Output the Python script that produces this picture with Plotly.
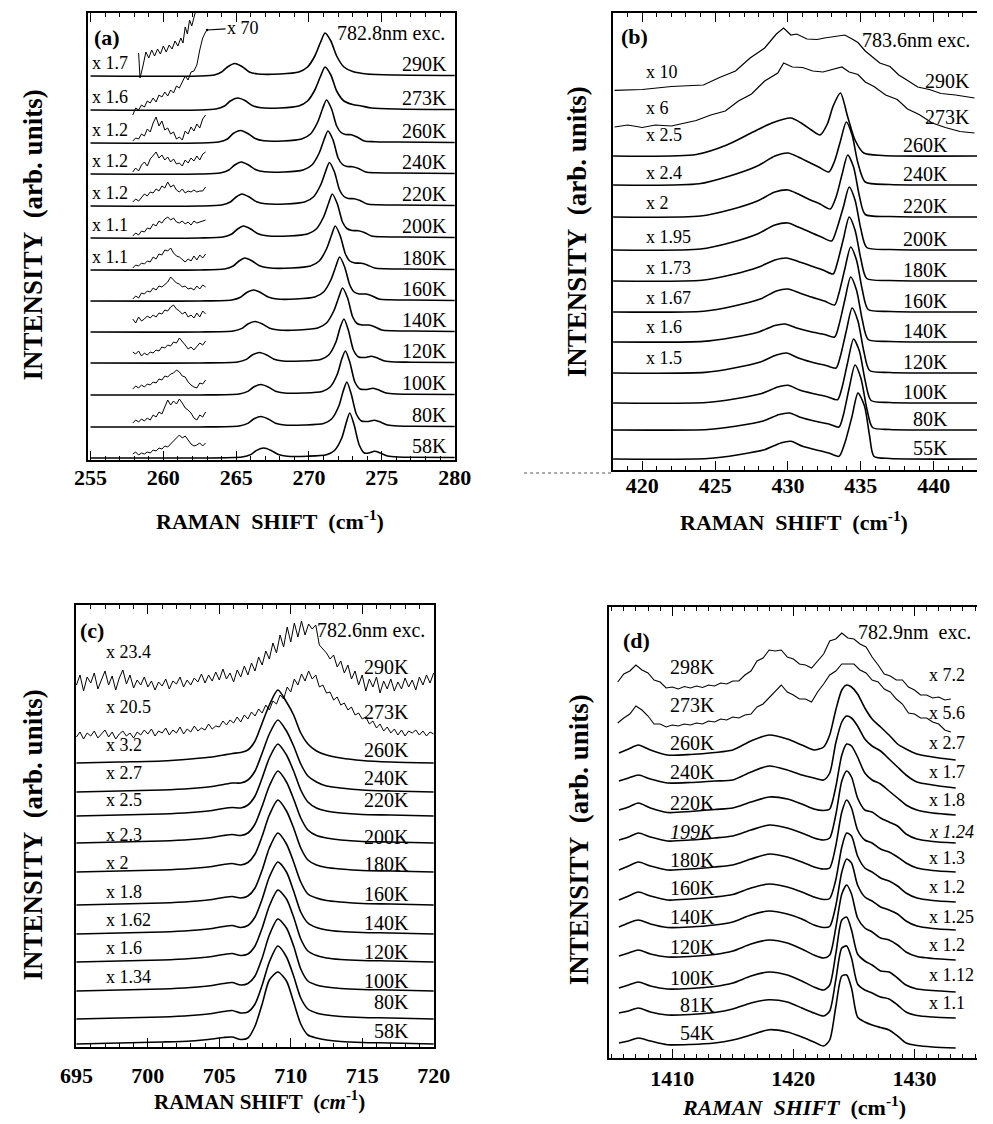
import plotly.graph_objects as go

W, H = 993, 1124
SERIF = "Liberation Serif"
NB = "\u00a0"

# ---------------- panel (a) ----------------
A_TEMPS = ["290K", "273K", "260K", "240K", "220K", "200K", "180K", "160K", "140K", "120K", "100K", "80K", "58K"]
A_BASE = [384, 350, 317, 286, 254, 222, 190, 159, 128, 97, 65, 33, 2]
A_SCALES = ["x 1.7", "x 1.6", "x 1.2", "x 1.2", "x 1.2", "x 1.1", "x 1.1"]
A_X = [
    [255, 262.5, 263.5, 264.0, 264.4, 264.9, 265.4, 265.9, 266.5, 268.0, 269.3, 269.9, 270.4, 270.8, 271.1, 271.5, 271.9, 272.4, 273.0, 274.0, 276.0, 280],
    [255, 262.5, 263.6, 264.2, 264.6, 265.1, 265.6, 266.1, 266.7, 268.0, 269.3, 269.9, 270.4, 270.8, 271.1, 271.5, 271.9, 272.4, 273.0, 273.6, 274.3, 276.0, 280],
    [255, 262.5, 263.8, 264.4, 264.8, 265.3, 265.8, 266.3, 266.9, 268.2, 269.5, 270.1, 270.6, 270.95, 271.2, 271.55, 271.9, 272.2, 272.5, 272.9, 273.3, 273.8, 274.5, 276.0, 280],
    [255, 262.5, 263.9, 264.5, 264.9, 265.35, 265.85, 266.35, 266.95, 268.3, 269.6, 270.2, 270.7, 271.05, 271.3, 271.65, 272.0, 272.3, 272.6, 273.0, 273.4, 273.9, 274.6, 276.0, 280],
    [255, 262.5, 264.0, 264.6, 265.0, 265.4, 265.9, 266.4, 267.0, 268.4, 269.7, 270.3, 270.8, 271.15, 271.4, 271.75, 272.1, 272.4, 272.7, 273.1, 273.5, 274.0, 274.7, 276.0, 280],
    [255, 262.5, 264.1, 264.7, 265.1, 265.5, 266.0, 266.5, 267.1, 268.6, 269.9, 270.5, 271.0, 271.35, 271.6, 271.95, 272.3, 272.6, 272.95, 273.4, 273.8, 274.3, 275.0, 276.5, 280],
    [255, 262.5, 264.2, 264.8, 265.2, 265.6, 266.1, 266.6, 267.2, 268.8, 270.1, 270.7, 271.2, 271.55, 271.8, 272.15, 272.5, 272.8, 273.15, 273.6, 274.0, 274.5, 275.2, 276.5, 280],
    [255, 262.5, 264.7, 265.3, 265.7, 266.2, 266.7, 267.2, 267.8, 269.1, 270.4, 271.0, 271.5, 271.85, 272.1, 272.45, 272.8, 273.1, 273.45, 273.9, 274.3, 274.8, 275.5, 277.0, 280],
    [255, 262.5, 264.8, 265.4, 265.8, 266.3, 266.8, 267.3, 267.9, 269.3, 270.6, 271.2, 271.7, 272.05, 272.3, 272.65, 273.0, 273.3, 273.65, 274.1, 274.5, 275.0, 275.7, 277.0, 280],
    [255, 262.5, 265.1, 265.7, 266.1, 266.6, 267.1, 267.6, 268.2, 269.5, 270.8, 271.35, 271.85, 272.15, 272.4, 272.7, 273.05, 273.4, 273.8, 274.3, 274.7, 275.2, 275.9, 277.0, 280],
    [255, 262.5, 265.2, 265.8, 266.2, 266.7, 267.2, 267.7, 268.3, 269.6, 270.9, 271.45, 271.95, 272.25, 272.5, 272.8, 273.15, 273.5, 273.9, 274.4, 274.8, 275.3, 276.0, 277.0, 280],
    [255, 262.5, 265.2, 265.8, 266.2, 266.7, 267.2, 267.7, 268.3, 269.7, 271.0, 271.55, 272.05, 272.35, 272.6, 272.9, 273.25, 273.6, 274.0, 274.5, 274.9, 275.4, 276.1, 277.0, 280],
    [255, 262.5, 265.4, 266.0, 266.4, 266.9, 267.4, 267.9, 268.5, 269.9, 271.2, 271.75, 272.25, 272.55, 272.8, 273.1, 273.45, 273.8, 274.1, 274.5, 274.9, 275.4, 276.1, 277.0, 280],
]
A_Y = [
    [0, 0, 1, 4, 9, 12.5, 9.5, 4, 2, 2, 4, 9, 20, 34, 43, 35, 20, 9, 4.5, 2, 1, 0.5],
    [0, 0, 1, 4, 9, 12, 9.5, 4.5, 2.2, 2, 4, 9, 20, 34, 43, 35, 19, 9, 5.5, 4, 2, 1, 0.5],
    [0, 0, 1, 4, 9.5, 12.5, 9.5, 4.5, 2.2, 2, 4, 9, 21, 35, 43, 34, 17, 10.5, 8.5, 8.3, 6, 2, 1.3, 1, 0.5],
    [0, 0, 1, 4, 9, 12, 9, 4.3, 2.2, 2, 4, 9, 21, 35, 43, 34, 16, 9.5, 7.5, 7.3, 5.5, 2, 1.2, 1, 0.5],
    [0, 0, 1, 4, 9, 12, 9, 4.3, 2.2, 2, 4, 9, 21, 35, 43.5, 34, 16, 9.5, 7.5, 7.3, 5.5, 2, 1.2, 1, 0.5],
    [0, 0, 1, 4, 9, 12, 9, 4.3, 2.2, 2, 4, 9, 21, 35, 44, 34, 16, 9.5, 7.5, 7.3, 5.5, 2, 1.2, 1, 0.5],
    [0, 0, 1, 4, 9, 12, 9, 4.3, 2.2, 2, 4, 9, 21, 35, 44, 34, 16, 9, 7, 6.7, 5, 2, 1.2, 1, 0.5],
    [0, 0, 1, 3.8, 8.3, 11, 8.3, 4, 2, 2, 4, 9, 21, 35, 44, 34, 16, 9, 7, 7, 5.3, 2, 1.2, 1, 0.5],
    [0, 0, 1, 3.6, 8, 10.5, 8, 3.8, 2, 2, 4, 9, 21, 35, 44, 34, 15, 8.5, 7, 7, 5.3, 2, 1.2, 1, 0.5],
    [0, 0, 1, 3.6, 8, 10.5, 8, 3.8, 2, 2, 3.5, 8, 21, 36, 44, 33, 13, 6, 5.5, 6.7, 5, 2, 1, 0.8, 0.5],
    [0, 0, 1, 3.6, 8, 10.5, 8, 3.8, 2, 2, 3.5, 8, 21, 36, 44, 33, 13, 6, 5.5, 6.7, 5, 2, 1, 0.8, 0.5],
    [0, 0, 1, 3.6, 8, 10.5, 8, 3.8, 2, 2, 3.5, 8, 21, 36, 45, 33, 13, 6, 5.5, 6.7, 5, 2, 1, 0.8, 0.5],
    [0, 0, 1, 3.4, 7.6, 10, 7.6, 3.6, 1.8, 1.8, 3.3, 7.5, 20, 35, 45, 33, 13, 5, 5, 6.7, 5, 2, 1, 0.8, 0.5],
]
# magnified (x70) low-frequency insets
A_INSET_290_X = [258.3, 258.4, 258.6, 258.8, 259.0, 259.2, 259.4, 259.6, 259.8, 260.0, 260.2, 260.4, 260.6, 260.8, 261.0, 261.2, 261.35, 261.5, 261.65, 261.8, 261.95, 262.1, 262.2]
A_INSET_290_Y = [23, -2, 10, 24, 18, 26, 20, 27, 22, 30, 24, 31, 27, 35, 30, 38, 33, 49, 42, 56, 50, 60, 64]
A_INSET_273_X = [257.9, 258.1, 258.3, 258.5, 258.7, 258.9, 259.1, 259.3, 259.5, 259.7, 259.9, 260.1, 260.3, 260.5, 260.7, 260.9, 261.1, 261.3, 261.5, 261.7, 261.9, 262.1, 262.3, 262.5, 262.7, 262.9, 263.0]
A_INSET_273_Y = [-5, 2, 0, 5, 3, 9, 7, 12, 8, 15, 13, 18, 14, 20, 17, 24, 22, 28, 34, 30, 38, 39, 45, 60, 72, 78, 80]
A_INSET_X = [257.9, 258.1, 258.3, 258.5, 258.7, 258.9, 259.1, 259.3, 259.5, 259.7, 259.9, 260.1, 260.3, 260.5, 260.7, 260.9, 261.1, 261.3, 261.5, 261.7, 261.9, 262.1, 262.3, 262.5, 262.7, 262.9]
A_INSET_Y = [
    [2, 5, 4, 9, 7, 14, 11, 20, 26, 17, 22, 13, 15, 9, 11, 4, 6, 3, 12, 9, 16, 12, 19, 15, 24, 28],
    [2, 6, 3, 9, 12, 8, 15, 18, 22, 16, 19, 14, 17, 12, 15, 10, 11, 8, 14, 11, 16, 13, 18, 14, 20, 22],
    [4, 7, 5, 9, 12, 10, 14, 13, 17, 15, 20, 18, 24, 19, 21, 16, 14, 17, 13, 15, 14, 16, 14, 15, 15, 19],
    [2, 5, 3, 7, 6, 10, 9, 14, 12, 17, 15, 19, 21, 18, 20, 16, 15, 17, 14, 16, 13, 17, 15, 16, 17, 18],
    [2, 5, 4, 7, 6, 9, 8, 13, 11, 16, 15, 20, 19, 22, 17, 14, 13, 10, 8, 11, 9, 14, 10, 15, 12, 16],
    [2, 5, 3, 8, 7, 10, 9, 13, 11, 15, 14, 17, 19, 24, 21, 18, 17, 14, 15, 12, 13, 11, 15, 12, 16, 14],
    [13, 9, 15, 11, 13, 16, 14, 17, 15, 19, 18, 22, 21, 25, 27, 23, 21, 18, 20, 15, 17, 14, 19, 15, 21, 18],
    [11, 9, 12, 7, 10, 8, 11, 10, 13, 12, 16, 15, 18, 17, 21, 20, 25, 22, 18, 14, 16, 13, 17, 20, 18, 22],
    [6, 9, 7, 10, 8, 11, 10, 13, 12, 16, 15, 19, 18, 21, 22, 25, 23, 19, 18, 13, 10, 8, 7, 12, 11, 15],
    [4, 7, 5, 8, 6, 9, 7, 12, 10, 15, 13, 20, 27, 22, 26, 23, 28, 24, 19, 17, 14, 9, 7, 12, 10, 15],
    [4, 6, 3, 5, 4, 6, 5, 8, 7, 10, 9, 12, 11, 14, 17, 21, 23, 20, 22, 18, 14, 12, 13, 15, 12, 15],
]

# ---------------- panel (b) ----------------
B_TEMPS = ["290K", "273K", "260K", "240K", "220K", "200K", "180K", "160K", "140K", "120K", "100K", "80K", "55K"]
B_BASE = [378, 342, 314, 285, 253, 220, 189, 158, 128, 97, 67, 40, 11]
B_SCALES = ["x 10", "x 6", "x 2.5", "x 2.4", "x 2", "x 1.95", "x 1.73", "x 1.67", "x 1.6", "x 1.5"]
B_X = [
    [418.1, 420, 422.0, 424.2, 425.3, 426.4, 427.4, 428.4, 429.2, 429.7, 430.2, 430.6, 431.3, 432.0, 432.5, 433.0, 433.5, 433.9, 434.4, 434.8,
     435.3, 435.7, 436.3, 437.0, 437.6, 438.1, 438.9, 439.7, 440.5, 441.5, 442.8],
    [418.1, 419.0, 420.0, 420.9, 422.0, 423.0, 423.7, 424.7, 425.7, 426.6, 427.5, 428.4, 429.3, 429.7, 430.3, 431.0, 431.7, 432.4, 433.0, 433.7,
     434.2, 434.8, 435.3, 435.9, 436.7, 437.5, 438.2, 439.0, 439.9, 440.8, 441.8, 442.8],
    [418, 423.7, 425.8, 427.6, 428.9, 430.2, 430.9, 431.6, 432.2, 432.7, 433.1, 433.6, 434.1, 434.6, 435.2, 436.5, 443],
    [418, 423.9, 426.0, 427.9, 429.1, 430.0, 430.7, 431.4, 432.1, 432.8, 433.2, 433.6, 434.0, 434.4, 434.8, 435.3, 437, 443],
    [418, 424.0, 426.1, 427.9, 429.1, 430.0, 430.7, 431.4, 432.2, 432.9, 433.3, 433.7, 434.1, 434.5, 434.9, 435.3, 437, 443],
    [418, 424.0, 426.1, 427.9, 429.1, 430.0, 430.7, 431.5, 432.3, 433.0, 433.35, 433.8, 434.2, 434.6, 435.0, 435.4, 437, 443],
    [418, 424.1, 426.2, 428.0, 429.1, 429.9, 430.7, 431.5, 432.4, 433.1, 433.4, 433.8, 434.2, 434.6, 435.0, 435.4, 437, 443],
    [418, 424.2, 426.3, 428.1, 429.2, 430.0, 430.8, 431.6, 432.5, 433.2, 433.5, 433.9, 434.3, 434.7, 435.1, 435.5, 437, 443],
    [418, 424.2, 426.2, 428.0, 429.1, 429.8, 430.6, 431.5, 432.5, 433.2, 433.5, 433.9, 434.3, 434.7, 435.1, 435.5, 437, 443],
    [418, 424.3, 426.3, 428.1, 429.2, 429.9, 430.7, 431.6, 432.6, 433.3, 433.6, 434.0, 434.4, 434.8, 435.2, 435.6, 437, 443],
    [418, 424.4, 426.4, 428.2, 429.3, 430.0, 430.8, 431.7, 432.7, 433.4, 433.7, 434.1, 434.5, 434.9, 435.3, 435.7, 437, 443],
    [418, 424.5, 426.5, 428.3, 429.4, 430.1, 430.9, 431.8, 432.8, 433.5, 433.8, 434.2, 434.6, 435.0, 435.4, 435.8, 437, 443],
    [418, 424.5, 426.6, 428.4, 429.5, 430.2, 431.0, 431.9, 432.8, 433.5, 433.9, 434.4, 434.8, 435.25, 435.6, 435.9, 437, 443],
]
B_Y = [
    [1.7, 2.5, 5.5, 7, 14.5, 21, 34, 44, 58, 64, 57, 58, 53, 52.5, 54, 55, 56.5, 57, 53, 49.5,
     41, 36, 29, 25.5, 17, 12.5, 5, 2.5, -1.5, -3, -6],
    [1, 3, 0.5, 3, 2, 5, 7.5, 13, 17, 27, 34, 47, 55, 65, 61, 60.5, 57, 56, 58.5, 61,
     56, 53.5, 46, 41.5, 33, 28.5, 19, 13.5, 5, 0.5, -3.5, -5],
    [0, 1.5, 11, 24, 33, 38, 33, 26, 21, 32, 50, 63, 39, 16, 3, 0.5, 0],
    [0, 1.2, 9, 19, 29, 32, 28, 23, 18, 13, 24, 44, 63, 50, 22, 3, 0.5, 0],
    [0, 1, 7.5, 16, 25, 27, 23, 18, 13, 8, 20, 42, 62, 50, 21, 2.5, 0.5, 0],
    [0, 1, 7.5, 16, 25, 27, 23, 18, 13, 9, 21, 43, 63, 50, 21, 2.5, 0.5, 0],
    [0, 0.8, 6.5, 14, 21, 23, 19.5, 15.5, 11, 7, 19, 42, 64, 51, 22, 2.5, 0.5, 0],
    [0, 0.8, 6, 13, 21, 23, 19, 15, 11, 7, 19, 43, 65, 52, 22, 2.5, 0.5, 0],
    [0, 0.6, 4.5, 10, 16.5, 18, 14, 10.5, 7.5, 5, 17, 42, 65, 52, 22, 2.5, 0.5, 0],
    [0, 0.6, 5, 11, 18, 20, 15, 11, 7.5, 5, 17, 42, 65, 52, 22, 2.5, 0.5, 0],
    [0, 0.5, 4.3, 9.5, 16, 17.7, 13, 9.5, 6.3, 3.3, 15, 41, 64, 52, 22, 2.5, 0.5, 0],
    [0, 0.5, 4, 9, 15.5, 17, 12.5, 9, 6, 3, 15, 42, 65, 52, 22, 2.5, 0.5, 0],
    [0, 0.5, 4.3, 9.3, 16, 17.7, 12.7, 9.3, 6, 2.7, 16, 43, 66, 53, 23, 2.7, 0.5, 0],
]

# ---------------- panel (c) ----------------
C_TEMPS = ["290K", "273K", "260K", "240K", "220K", "200K", "180K", "160K", "140K", "120K", "100K", "80K", "58K"]
C_BASE = [360, 310, 284, 255, 231, 204, 175, 142, 113, 85, 56, 28, 3]
C_SCALES = ["x 23.4", "x 20.5", "x 3.2", "x 2.7", "x 2.5", "x 2.3", "x 2", "x 1.8", "x 1.62", "x 1.6", "x 1.34"]
C_NOISE_X = [
    695.0, 695.25, 695.5, 695.75, 696.0, 696.25, 696.5, 696.75, 697.0, 697.25,
    697.5, 697.75, 698.0, 698.25, 698.5, 698.75, 699.0, 699.25, 699.5, 699.75,
    700.0, 700.25, 700.5, 700.75, 701.0, 701.25, 701.5, 701.75, 702.0, 702.25,
    702.5, 702.75, 703.0, 703.25, 703.5, 703.75, 704.0, 704.25, 704.5, 704.75,
    705.0, 705.25, 705.5, 705.75, 706.0, 706.25, 706.5, 706.75, 707.0, 707.25,
    707.5, 707.75, 708.0, 708.25, 708.5, 708.75, 709.0, 709.25, 709.5, 709.75,
    710.0, 710.25, 710.5, 710.75, 711.0, 711.25, 711.5, 711.75, 712.0, 712.25,
    712.5, 712.75, 713.0, 713.25, 713.5, 713.75, 714.0, 714.25, 714.5, 714.75,
    715.0, 715.25, 715.5, 715.75, 716.0, 716.25, 716.5, 716.75, 717.0, 717.25,
    717.5, 717.75, 718.0, 718.25, 718.5, 718.75, 719.0, 719.25, 719.5, 719.75,
    720.0]
C_290_Y = [
    2, 12, -4, 10, 4, 14, -2, 8, 16, 2,
    11, -3, 9, 17, 3, 12, -1, 7, 2, 10,
    0, 6, -3, 5, 1, 8, -2, 6, 3, 10,
    0, 7, 2, 9, 5, 13, 4, 12, 6, 15,
    7, 18, 8, 14, 5, 17, 10, 21, 12, 24,
    16, 30, 22, 36, 28, 44, 34, 52, 40, 60,
    45, 64, 50, 66, 52, 63, 58, 62, 42, 38,
    34, 28, 32, 20, 26, 14, 22, 8, 16, 2,
    12, -4, 8, 0, 10, -6, 6, -2, 8, -4,
    5, -2, 9, 0, 7, -3, 10, 2, 12, 4,
    14]
C_273_Y = [
    0, 5, -2, 4, 1, 6, -1, 3, 7, 0,
    5, -2, 3, 6, 1, 4, -1, 5, 2, 7,
    3, 8, 1, 6, 4, 9, 2, 7, 4, 10,
    3, 8, 5, 11, 6, 9, 7, 13, 8, 11,
    10, 16, 12, 17, 14, 20, 15, 22, 18, 25,
    21, 28, 24, 32, 27, 36, 33, 42, 38, 50,
    45, 58, 52, 63, 56, 66, 58, 62, 50, 52,
    44, 45, 37, 40, 32, 34, 27, 30, 22, 24,
    18, 20, 13, 16, 9, 13, 6, 10, 4, 8,
    2, 7, 1, 6, 4, 7, 2, 6, 1, 5,
    3]
C_X = [695, 698, 701, 703, 704.5, 705.3, 705.9, 706.5, 707.0, 707.5, 708.0, 708.5, 709.1, 709.7, 710.2, 710.7, 711.2, 711.8, 712.5, 713.5, 715, 717, 720]
C_Y = [  # 260K ... 58K
    [0, 1, 2, 4, 6, 8, 9.5, 10.5, 13, 22, 40, 58, 73, 61, 48, 30, 19, 12, 8, 5, 2.5, 1, 0],
    [0, 1, 2, 3.5, 5.5, 7.5, 9, 9, 12, 21, 39, 58, 72, 61, 46, 28, 16, 10, 6, 4, 2, 1, 0],
    [0, 1, 2, 3.5, 5.5, 7.5, 8.5, 8, 11, 20, 38, 58, 72, 61, 45, 26, 14, 8, 5, 3, 1.5, 1, 0],
    [0, 1, 2, 3.5, 5.5, 7.5, 8.5, 7.5, 10, 19, 37, 57, 72, 61, 44, 25, 13, 7.5, 5, 3, 1.5, 1, 0],
    [0, 1, 2, 3.5, 5.5, 7.5, 8.5, 7, 9.5, 18, 36, 57, 72, 61, 44, 24, 12, 7, 4.5, 3, 1.5, 1, 0],
    [0, 1, 2, 3.5, 5.5, 7.5, 8.5, 7, 9, 17, 35, 57, 72, 61, 43, 23, 11, 7, 4.5, 3, 1.5, 1, 0],
    [0, 1, 2, 3.5, 5.5, 7.5, 8.5, 6.5, 8.5, 17, 35, 57, 72, 62, 43, 22, 11, 6.5, 4, 2.5, 1.5, 1, 0],
    [0, 1, 2, 3.5, 5.5, 7.5, 8.5, 6.5, 8, 16, 34, 56, 72, 63, 45, 23, 11, 6.5, 4, 2.5, 1.5, 1, 0],
    [0, 1, 2, 3.5, 5.5, 7.5, 8.5, 6, 7.5, 15, 33, 56, 72, 63, 45, 22, 10, 6, 4, 2.5, 1.5, 1, 0],
    [0, 1, 2, 3.5, 5.5, 7.5, 8.5, 6, 7, 15, 34, 57, 73, 62, 43, 21, 10, 6, 4, 2.5, 1.5, 1, 0],
    [0, 1, 2, 3, 5, 6.5, 7, 4.5, 6, 18, 40, 64, 72, 63, 42, 20, 9, 6, 4, 2.5, 1.5, 1, 0],
]

# ---------------- panel (d) ----------------
D_TEMPS = ["298K", "273K", "260K", "240K", "220K", "<i>199K</i>", "180K", "160K", "140K", "120K", "100K", "81K", "54K"]
D_BASE = [358, 325, 298, 270, 243, 215, 186, 156, 128, 98, 66, 40, 10]
D_SCALES = ["x 7.2", "x 5.6", "x 2.7", "x 1.7", "x 1.8", "<i>x 1.24</i>", "x 1.3", "x 1.2", "x 1.25", "x 1.2", "x 1.12", "x 1.1"]
D_NOISE_X = [
    1405.5, 1406.0, 1406.5, 1407.0, 1407.5, 1408.0, 1408.5, 1409.0, 1409.5, 1410.0,
    1410.5, 1411.0, 1411.5, 1412.0, 1412.5, 1413.0, 1413.5, 1414.0, 1414.5, 1415.0,
    1415.5, 1416.0, 1416.5, 1417.0, 1417.5, 1418.0, 1418.5, 1419.0, 1419.5, 1420.0,
    1420.5, 1421.0, 1421.5, 1422.0, 1422.5, 1423.0, 1423.5, 1424.0, 1424.5, 1425.0,
    1425.5, 1426.0, 1426.5, 1427.0, 1427.5, 1428.0, 1428.5, 1429.0, 1429.5, 1430.0,
    1430.5, 1431.0, 1431.5, 1432.0, 1432.5, 1433.0]
D_298_Y = [
    18, 26, 29, 35, 30, 27, 20, 18, 12, 13,
    11, 13.5, 12, 14, 12.5, 15, 14, 17, 16, 19,
    19, 25, 29, 39, 42, 50, 49, 50, 43, 41,
    36, 35, 32, 39, 46, 59, 61, 67, 62, 61,
    56, 53, 43, 35, 26, 24, 20, 20, 13, 10,
    5, 5, 2, 3, 0, 1]
D_273_Y = [
    10, 15, 19, 27, 23, 17, 9, 9, 6, 8,
    7, 9, 8, 10, 9, 12, 11, 14, 13, 16,
    15, 18, 19, 26, 29, 35, 41, 48, 41, 38,
    34, 34, 31, 41, 49, 58, 62, 69, 69, 69,
    63, 60, 53, 51, 44, 41, 34, 29, 20, 19,
    15, 15, 11, 9, 3, 1]
D_X = [1405.6, 1406.4, 1407.2, 1408.2, 1409.6, 1411.5, 1413.5, 1415.0, 1416.5, 1418.0, 1419.5, 1420.7, 1421.7, 1422.5, 1423.0,
       1423.5, 1424.0, 1424.4, 1424.8, 1425.3, 1425.9, 1426.5, 1427.2, 1427.9, 1428.6, 1429.3, 1430.2, 1431.5, 1433.4]
D_Y = [  # 260K ... 54K
    [7, 11, 15, 10, 5, 5.5, 7.5, 10, 19, 25, 21, 15, 10, 13, 25, 50, 70, 75, 73, 66, 52, 41, 33, 25, 16, 11, 6, 3, 0],
    [7, 10, 13, 9, 5, 5.5, 7, 8, 16, 22, 18, 13, 10, 8, 15, 45, 66, 72, 70, 62, 49, 42, 37, 29, 21, 13, 6, 3, 0],
    [5, 8, 12, 7, 2.5, 3.5, 5.5, 7, 13, 18, 16, 11, 6, 4.5, 6, 28, 60, 71, 69, 58, 42, 35, 31, 24, 17, 10, 5, 2, 0],
    [3, 6, 10, 6, 2, 3, 5, 7, 13, 18, 15, 10, 5, 3, 5, 28, 62, 72, 66, 45, 33, 31, 25, 21, 17, 9, 4, 1.5, 0],
    [2, 6, 10, 6, 2, 3, 5, 7, 13, 18, 15, 10, 5, 3, 4, 26, 60, 72, 64, 42, 32, 29, 23, 20, 15, 9, 4, 1.5, 0],
    [2, 6, 10, 6, 2, 3, 5, 7.5, 14, 18, 15, 10, 5, 2.5, 3.5, 22, 55, 69, 66, 46, 34, 30, 24, 21, 16, 9, 4, 1.5, 0],
    [3, 7, 10, 6, 2.5, 3, 5, 8, 15, 19, 16, 11, 5, 2.5, 3.5, 24, 58, 71, 67, 45, 33, 29, 23, 20, 16, 9, 4, 1.5, 0],
    [4, 7, 10, 6, 3, 3.5, 5.5, 9, 16, 20, 17, 11, 5, 2, 5, 32, 66, 75, 66, 42, 32, 28, 22, 20, 15, 8, 3.5, 1.5, 0],
    [4, 7, 10, 6, 3, 3.5, 5.5, 9, 16, 20, 17, 11, 5, 2, 7, 38, 72, 75, 62, 38, 31, 27, 21, 20, 14, 7, 3, 1.5, 0],
    [5, 7, 10, 6, 3, 3.5, 5.5, 9, 15, 18.3, 16, 10, 5, 2, 7, 38, 70, 72, 60, 34, 28, 25, 21, 19, 13, 6, 2.5, 1, 0],
    [5, 7, 10, 7, 3.3, 3.5, 5, 8, 13, 18.3, 16, 11, 6, 2, 8, 41, 72, 73, 60, 31, 26, 23, 20.5, 18, 12, 5, 2.5, 1, 0],
]

# ---------------- layout constants (positions / styles) ----------------
PANELS = {
    "a": dict(ax="", px=(74, 454), py=(13, 460), xr=[254.8, 280.05], yr=[0, 447], dtick=5, tick0=255, stand=-3, ymirror=True),
    "b": dict(ax="2", px=(617, 993), py=(13, 470), xr=[418.0, 442.97], yr=[0, 457], dtick=5, tick0=420, stand=-5, ymirror=False),
    "c": dict(ax="3", px=(62, 432), py=(605, 1047), xr=[694.97, 720.03], yr=[0, 442], dtick=5, tick0=695, stand=8, ymirror=True),
    "d": dict(ax="4", px=(613, 993), py=(607, 1058), xr=[1404.8, 1435.16], yr=[0, 451], dtick=10, tick0=1410, stand=0, ymirror=False),
}
A_TEMP_DY, A_SCALE_DY = 12, 13
B_TEMP_DY = 11
B_SCALE_DY = [20, 20, 21, 12, 14, 13, 13, 14, 15, 15]
C_TEMP_DY = [20, 25, 13, 14, 16, 6, 8, 11, 11, 10, 10, 17, 13]
C_SCALE_DY = [35, 30, 18, 19, 16, 8, 9, 13, 14, 14, 14]
D_TEMP_DY = [33, 28, 17, 16, 12, 11, 12, 14, 13, 13, 14, 13, 15]
D_SCALE_DY = [25, 20, 17, 16, 15, 11, 14, 15, 13, 15, 17, 15]

LW = 1.6
NOISE_LW = 1.0

fig = go.Figure()


def add_line(xs, ys, base, ax, smooth=True, width=LW):
    fig.add_trace(go.Scatter(
        x=xs, y=[base + v for v in ys], mode="lines",
        line=dict(color="black", width=width, shape="spline" if smooth else "linear", smoothing=0.7),
        xaxis="x" + ax, yaxis="y" + ax, hoverinfo="skip", showlegend=False))


# panel a
for i in range(len(A_TEMPS)):
    add_line(A_X[i], A_Y[i], A_BASE[i], "")
add_line(A_INSET_290_X, A_INSET_290_Y, A_BASE[0], "", smooth=False, width=NOISE_LW)
add_line(A_INSET_273_X, A_INSET_273_Y, A_BASE[1], "", smooth=False, width=NOISE_LW)
for i, ys in enumerate(A_INSET_Y):
    add_line(A_INSET_X, ys, A_BASE[i + 2], "", smooth=False, width=NOISE_LW)

# panel b
for i in range(len(B_TEMPS)):
    add_line(B_X[i], B_Y[i], B_BASE[i], "2", smooth=(i >= 2), width=LW if i >= 2 else 1.2)

# panel c
add_line(C_NOISE_X, C_290_Y, C_BASE[0], "3", smooth=False, width=NOISE_LW)
add_line(C_NOISE_X, C_273_Y, C_BASE[1], "3", smooth=False, width=NOISE_LW)
for i, ys in enumerate(C_Y):
    add_line(C_X, ys, C_BASE[i + 2], "3")

# panel d
add_line(D_NOISE_X, D_298_Y, D_BASE[0], "4", smooth=False, width=1.1)
add_line(D_NOISE_X, D_273_Y, D_BASE[1], "4", smooth=False, width=1.1)
for i, ys in enumerate(D_Y):
    add_line(D_X, ys, D_BASE[i + 2], "4")

# axes
layout_axes = {}
for key, p in PANELS.items():
    ax = p["ax"]
    xdom = [p["px"][0] / W, p["px"][1] / W]
    ydom = [1 - p["py"][1] / H, 1 - p["py"][0] / H]
    layout_axes["xaxis" + ax] = dict(
        domain=xdom, range=p["xr"], anchor="y" + ax, showgrid=False, zeroline=False,
        showline=True, linecolor="black", linewidth=1.5, mirror="ticks",
        ticks="inside", ticklen=9, tickwidth=1.3, tickcolor="black",
        dtick=p["dtick"], tick0=p["tick0"], ticklabelstandoff=p["stand"],
        minor=dict(ticks="inside", ticklen=4, dtick=1, tickwidth=1, tickcolor="black"),
        tickfont=dict(family=SERIF, size=22, color="black", weight="bold"),
    )
    layout_axes["yaxis" + ax] = dict(
        domain=ydom, range=p["yr"], anchor="x" + ax, showgrid=False, zeroline=False,
        showline=True, linecolor="black", linewidth=1.5, mirror=p["ymirror"],
        ticks="", showticklabels=False,
    )

ann = []


def txt(x, y, t, ax, anchor, size=20, bold=False):
    ann.append(dict(x=x, y=y, xref="x" + ax, yref="y" + ax, text=t, showarrow=False,
                    xanchor=anchor, yanchor="middle",
                    font=dict(family=SERIF, size=size, color="black", weight="bold" if bold else "normal")))


# panel a labels
for i, t in enumerate(A_TEMPS):
    txt(279.6, A_BASE[i] + A_TEMP_DY, t, "", "right")
for i, t in enumerate(A_SCALES):
    txt(254.95, A_BASE[i] + A_SCALE_DY, t, "", "left", size=18)
txt(279.5, 427, "782.8nm exc.", "", "right")
txt(255.1, 422, "(a)", "", "left", size=22, bold=True)
ann.append(dict(x=263.0, y=A_BASE[1] + 80, xref="x", yref="y", text="x 70", showarrow=True,
                ax=36, ay=-2, arrowhead=6, arrowsize=0.5, arrowwidth=1.2, arrowcolor="black",
                font=dict(family=SERIF, size=18, color="black")))

# panel b labels
for i, t in enumerate(B_TEMPS):
    txt(442.6 if i < 2 else 441.1, B_BASE[i] + B_TEMP_DY, t, "2", "right")
for i, t in enumerate(B_SCALES):
    txt(420.1, B_BASE[i] + B_SCALE_DY[i], t, "2", "left", size=18)
txt(442.64, 430, "783.6nm exc.", "2", "right")
txt(418.4, 433, "(b)", "2", "left", size=22, bold=True)

# panel c labels
for i, t in enumerate(C_TEMPS):
    txt(718.4, C_BASE[i] + C_TEMP_DY[i], t, "3", "right")
for i, t in enumerate(C_SCALES):
    txt(696.9, C_BASE[i] + C_SCALE_DY[i], t, "3", "left", size=18)
txt(719.5, 417, "782.6nm exc.", "3", "right")
txt(695.1, 417, "(c)", "3", "left", size=22, bold=True)

# panel d labels
for i, t in enumerate(D_TEMPS):
    txt(1413.7, D_BASE[i] + D_TEMP_DY[i], t, "4", "right")
for i, t in enumerate(D_SCALES):
    txt(1431.0, D_BASE[i] + D_SCALE_DY[i], t, "4", "left", size=18)
txt(1434.8, 426, "782.9nm" + NB + NB + "exc.", "4", "right")
txt(1405.8, 418, "(d)", "4", "left", size=22, bold=True)


def paper_txt(px, py, t, size, angle=0):
    ann.append(dict(x=px / W, y=1 - py / H, xref="paper", yref="paper", text=t, showarrow=False,
                    xanchor="center", yanchor="middle", textangle=angle,
                    font=dict(family=SERIF, size=size, color="black")))


YT = "<b>INTENSITY" + NB + NB + "(arb." + NB + "units)</b>"
paper_txt(18, 235, YT, 27, -90)
paper_txt(580, 232, YT, 27, -90)
paper_txt(18, 835, YT, 27, -90)
paper_txt(582, 840, YT, 27, -90)
XT = "<b>RAMAN" + NB + NB + "SHIFT" + NB + NB + "(cm<sup>-1</sup>)</b>"
paper_txt(262, 520, XT, 22)
paper_txt(804, 521, XT, 22)
paper_txt(252, 1100, "<b>RAMAN" + NB + "SHIFT" + NB + NB + "(<i>cm</i><sup>-1</sup>)</b>", 21)
paper_txt(804, 1106, "<b><i>RAMAN" + NB + NB + "SHIFT</i>" + NB + NB + "(cm<sup>-1</sup>)</b>", 22)

shapes = [dict(type="line", xref="paper", yref="paper", x0=525 / W, x1=615 / W,
               y0=1 - 473 / H, y1=1 - 473 / H, line=dict(color="#555", width=1, dash="dot"))]

fig.update_layout(
    width=W, height=H, margin=dict(l=0, r=0, t=0, b=0),
    paper_bgcolor="white", plot_bgcolor="white",
    annotations=ann, shapes=shapes, showlegend=False,
    font=dict(family=SERIF, color="black"),
    **layout_axes,
)

fig.write_html("out.html", config={"displayModeBar": False},
               post_script="document.body.style.margin='0px';document.body.style.overflow='hidden';")
